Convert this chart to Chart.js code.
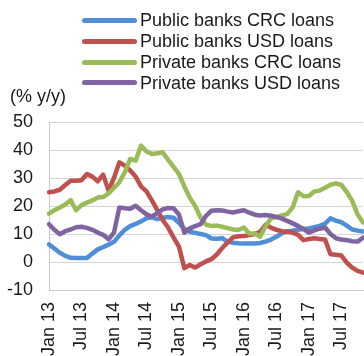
<!DOCTYPE html>
<html>
<head>
<meta charset="utf-8">
<script src="https://cdn.jsdelivr.net/npm/chart.js@4/dist/chart.umd.min.js"></script>
<style>
  html, body { margin: 0; padding: 0; background: #fff; }
  #wrap { position: relative; width: 364px; height: 356px; overflow: hidden; font-family: "Liberation Sans", Arial, sans-serif; color: #1a1a1a; }
  #c { position: absolute; left: 0; top: 0; }
  .leg { position: absolute; left: 82px; font-size: 18px; line-height: 21px; white-space: nowrap; }
  .leg span.sw { display: inline-block; width: 55px; height: 5px; border-radius: 3px; vertical-align: middle; margin-right: 3px; position: relative; top: -1px; }
  #ytitle { position: absolute; left: 10px; top: 86px; font-size: 18px; line-height: 21px; }
</style>
</head>
<body>
<div id="wrap">
  <canvas id="c" width="364" height="356"></canvas>
  <div id="legend"></div>
  <div id="ytitle">(% y/y)</div>
</div>
<script>
const months = [
  "Jan 13","Feb 13","Mar 13","Apr 13","May 13","Jun 13","Jul 13","Aug 13","Sep 13","Oct 13","Nov 13","Dec 13",
  "Jan 14","Feb 14","Mar 14","Apr 14","May 14","Jun 14","Jul 14","Aug 14","Sep 14","Oct 14","Nov 14","Dec 14",
  "Jan 15","Feb 15","Mar 15","Apr 15","May 15","Jun 15","Jul 15","Aug 15","Sep 15","Oct 15","Nov 15","Dec 15",
  "Jan 16","Feb 16","Mar 16","Apr 16","May 16","Jun 16","Jul 16","Aug 16","Sep 16","Oct 16","Nov 16","Dec 16",
  "Jan 17","Feb 17","Mar 17","Apr 17","May 17","Jun 17","Jul 17","Aug 17","Sep 17","Oct 17","Nov 17"
];
const seriesNames = ["Public banks CRC loans","Public banks USD loans","Private banks CRC loans","Private banks USD loans"];
const publicCRC = [6.3,4.8,3.3,2.2,1.5,1.4,1.4,1.4,3.0,4.5,5.3,6.2,
  7.2,9.5,11.5,12.8,13.6,14.5,15.6,16.0,15.3,15.8,16.1,15.8,
  14.0,11.8,10.8,10.4,10.0,9.6,8.4,8.3,8.5,7.2,6.9,6.7,
  6.6,6.6,6.6,6.8,7.3,8.0,9.0,10.2,11.0,11.2,11.5,11.8,
  12.0,12.4,12.9,13.7,15.6,14.8,14.2,13.0,11.6,11.2,10.9];
const publicUSD = [24.9,25.2,25.8,27.5,29.0,29.0,29.2,31.4,30.5,28.8,31.2,25.5,
  30.0,35.6,34.4,32.7,30.5,27.0,25.2,22.0,18.5,15.0,12.3,8.8,
  5.5,-2.2,-1.1,-2.0,-0.8,0.2,1.0,2.7,5.0,7.0,8.8,9.2,
  9.3,9.6,10.0,10.8,13.3,12.3,11.5,11.0,10.8,10.5,9.7,7.8,
  8.2,8.5,8.2,8.0,2.8,2.6,2.3,-0.2,-2.0,-3.2,-3.8];
const privateCRC = [17.3,18.5,19.5,20.5,22.1,18.5,20.3,21.2,22.0,23.0,23.2,24.5,
  26.5,28.5,32.0,36.8,36.2,41.6,39.5,38.6,38.8,39.2,36.5,34.0,
  31.5,27.0,23.0,20.0,15.9,13.3,12.9,13.0,12.6,12.1,11.6,11.4,
  12.3,10.2,10.2,9.0,12.8,15.6,16.0,16.6,17.1,19.5,24.9,23.5,
  23.6,25.2,25.5,26.5,27.6,28.1,27.5,25.0,21.8,17.0,14.1];
const privateUSD = [13.5,11.5,9.9,11.0,11.6,12.4,12.6,12.2,11.5,10.5,9.7,8.1,
  10.5,19.5,19.2,19.0,20.1,18.5,17.0,16.2,17.5,18.8,19.3,19.2,
  17.0,10.5,12.0,12.8,13.5,16.5,18.3,18.5,18.4,18.0,17.7,18.1,
  18.5,17.6,16.9,16.6,16.8,16.5,16.1,15.5,14.7,13.8,12.9,11.8,
  10.5,11.3,11.9,12.3,10.0,8.5,8.0,7.8,7.4,7.3,8.7];
const yTicks = [-10, 0, 10, 20, 30, 40, 50];

const colors = ["#4f8fd8", "#c0504d", "#9bbb59", "#8064a2"];
const values = [publicCRC, publicUSD, privateCRC, privateUSD];

// HTML legend
const legend = document.getElementById('legend');
seriesNames.forEach((n, i) => {
  const d = document.createElement('div');
  d.className = 'leg';
  d.style.top = (10 + i * 20.9) + 'px';
  d.innerHTML = '<span class="sw" style="background:' + colors[i] + '"></span>' + n;
  legend.appendChild(d);
});

const FONT = { family: "'Liberation Sans', Arial, sans-serif", size: 18 };

new Chart(document.getElementById('c'), {
  type: 'line',
  data: {
    labels: months,
    datasets: seriesNames.map((n, i) => ({
      label: n,
      data: values[i],
      borderColor: colors[i],
      backgroundColor: colors[i],
      borderWidth: 4.5,
      pointRadius: 0,
      tension: 0,
      borderCapStyle: 'round',
      borderJoinStyle: 'round',
      order: 4 - i
    }))
  },
  options: {
    responsive: false,
    animation: false,
    devicePixelRatio: 1,
    layout: { padding: { top: 122, left: 0, right: 1, bottom: 0 } },
    plugins: { legend: { display: false }, tooltip: { enabled: false } },
    scales: {
      x: {
        type: 'category',
        offset: false,
        grid: { display: false, drawTicks: false },
        border: { display: true, color: '#c8c8c8', width: 1 },
        ticks: {
          autoSkip: false,
          maxRotation: 90,
          minRotation: 90,
          padding: 12,
          color: '#1a1a1a',
          font: FONT,
          callback: function(v, i) { return i % 6 === 0 ? months[i] : null; }
        },
        afterFit: function(s) { s.height = 66; s.paddingLeft = 0; s.paddingRight = 0; }
      },
      y: {
        min: -10,
        max: 50,
        afterBuildTicks: function(s) { s.ticks = yTicks.map(v => ({ value: v })); },
        grid: { color: '#d4d4d4', lineWidth: 1, drawTicks: false },
        border: { display: true, color: '#c8c8c8', width: 1 },
        ticks: { padding: 16, color: '#1a1a1a', font: FONT },
        afterFit: function(s) { s.width = 49; s.paddingTop = 0; s.paddingBottom = 0; }
      }
    }
  }
});
</script>
</body>
</html>
